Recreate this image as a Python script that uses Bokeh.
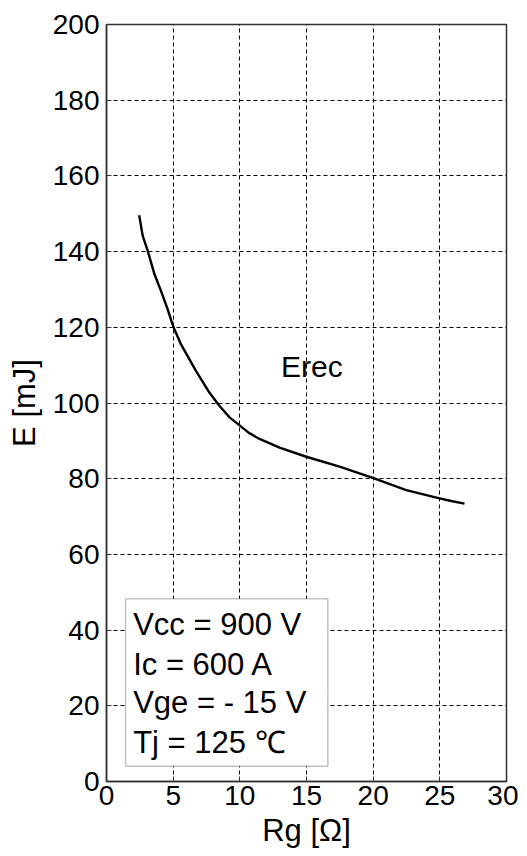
from bokeh.plotting import figure
from bokeh.models import Range1d, BoxAnnotation, Label, FixedTicker
from bokeh.embed import file_html
from bokeh.resources import INLINE

# ---- data ----
rg = [2.45, 2.72, 3.1, 3.6, 4.1, 4.55, 5.03, 5.6, 6.72, 7.73, 8.48, 9.23,
      9.98, 10.68, 11.48, 12.98, 14.98, 17.48, 19.97, 22.48, 24.98, 25.85, 26.85]
erec = [149.6, 144.1, 140.1, 134.0, 129.5, 125.1, 120.0, 115.4, 108.4, 102.7,
        99.2, 96.2, 94.1, 92.1, 90.5, 88.2, 85.8, 83.2, 80.2, 77.0, 74.8, 74.1, 73.4]
x_ticks = [0, 5, 10, 15, 20, 25, 30]
y_ticks = [0, 20, 40, 60, 80, 100, 120, 140, 160, 180, 200]
conditions = ["Vcc = 900 V", "Ic = 600 A", "Vge = - 15 V", "Tj = 125 ℃"]
curve_name = "Erec"
x_title = "Rg [Ω]"
y_title = "E [mJ]"

FONT = "Liberation Sans"

p = figure(frame_width=400, frame_height=757, output_backend="svg",
           toolbar_location=None, x_range=Range1d(0, 30), y_range=Range1d(0, 200),
           min_border_left=106, min_border_right=12, min_border_top=24,
           min_border_bottom=66, background_fill_color="white",
           border_fill_color="white")

p.outline_line_color = "#333333"
p.outline_line_width = 1.5

for ax in (p.xaxis, p.yaxis):
    ax.axis_line_color = "#333333"
    ax.axis_line_width = 1.5
    ax.major_tick_in = 5
    ax.major_tick_out = 0
    ax.minor_tick_line_color = None
    ax.major_tick_line_color = "#333333"
    ax.major_label_text_font = FONT
    ax.major_label_text_font_size = "28px"
    ax.major_label_text_color = "black"
    ax.axis_label_text_font = FONT
    ax.axis_label_text_font_size = "31px"
    ax.axis_label_text_font_style = "normal"
    ax.axis_label_text_color = "black"

p.xaxis.ticker = FixedTicker(ticks=x_ticks)
p.yaxis.ticker = FixedTicker(ticks=y_ticks)
p.xaxis.major_label_standoff = 4
p.yaxis.major_label_standoff = 7
p.xaxis.axis_label = x_title
p.yaxis.axis_label = y_title
p.xaxis.axis_label_standoff = 5
p.yaxis.axis_label_standoff = 8

for g in (p.xgrid, p.ygrid):
    g.grid_line_color = "black"
    g.grid_line_dash = "4 3"
    g.grid_line_width = 1

p.line(rg, erec, line_color="black", line_width=2.4, line_join="round")

p.add_layout(Label(x=15.4, y=109.6, text=curve_name, text_align="center",
                   text_baseline="middle", text_font=FONT,
                   text_font_size="30px", text_color="black"))

box = BoxAnnotation(left=1.43, right=16.6, bottom=4.0, top=48.3,
                    fill_color="white", fill_alpha=1.0,
                    line_color="#333333", line_width=1.5)
p.add_layout(box)

line_y = [41.5, 30.9, 20.9, 10.3]
for t, yy in zip(conditions, line_y):
    p.add_layout(Label(x=2.0, y=yy, text=t, text_align="left",
                       text_baseline="middle", text_font=FONT,
                       text_font_size="31px", text_color="black"))

open("out.html", "w").write(file_html(p, INLINE))
